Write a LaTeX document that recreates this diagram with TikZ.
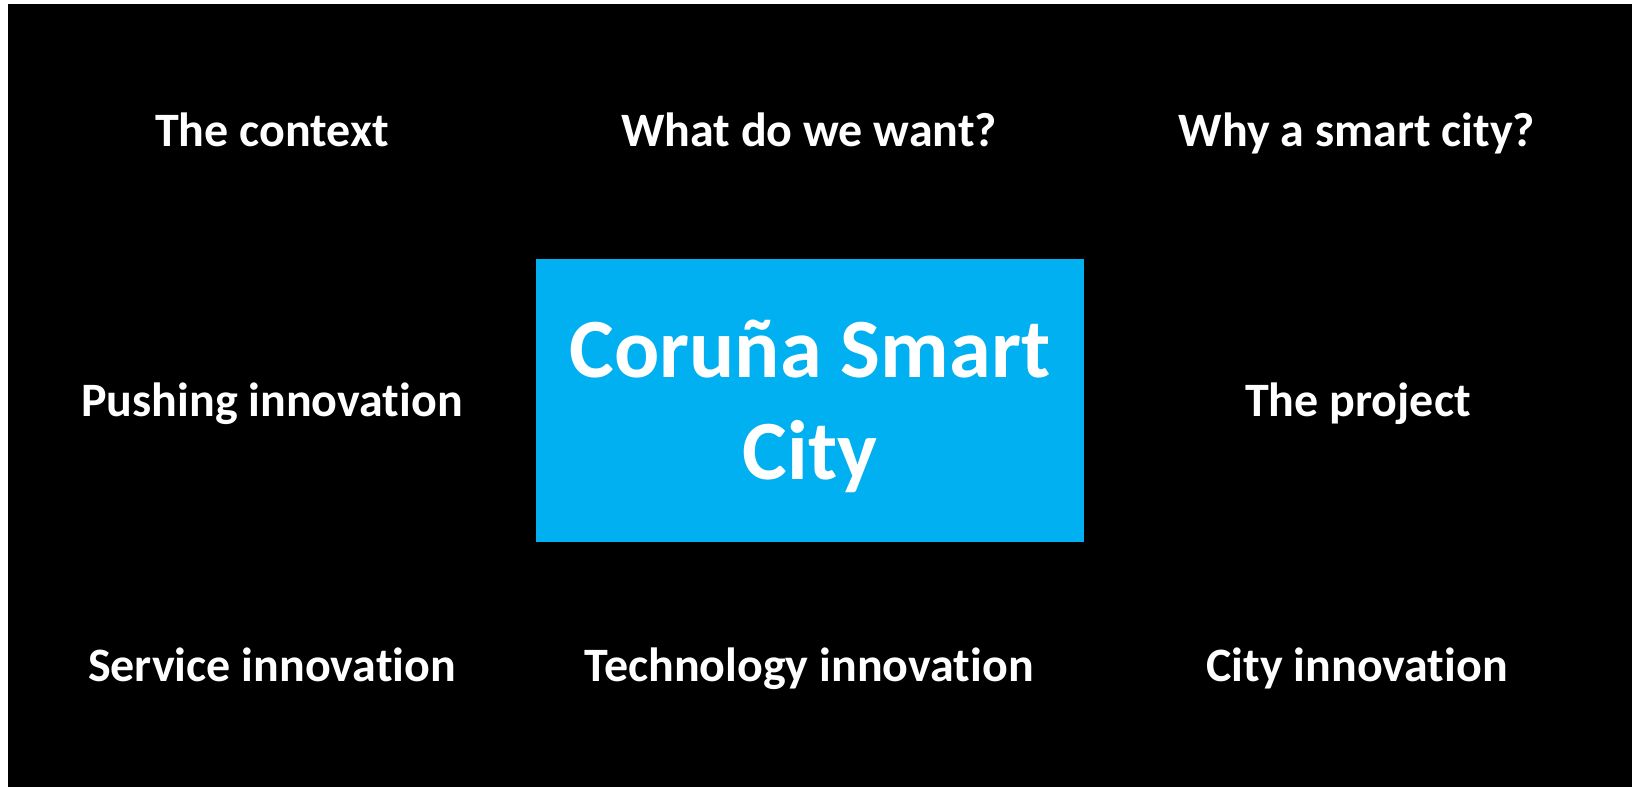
\documentclass[tikz,border=0pt]{standalone}
\usepackage{fontspec}
\setmainfont{Carlito}[Ligatures=NoCommon]
\usepackage{tikz}
\definecolor{cityblue}{HTML}{00B0F0}

\begin{document}
\begin{tikzpicture}[
    topic/.style={text=white, font=\bfseries\fontsize{27.3}{32}\selectfont, anchor=base, inner sep=0pt},
    hub/.style={fill=cityblue, minimum width=10.96cm, minimum height=5.66cm, inner sep=0pt},
    hubtext/.style={text=white, align=center, font=\bfseries\fontsize{48}{58}\selectfont, inner sep=0pt}
  ]
      \useasboundingbox (0,0) rectangle (32.68,-15.74);
      \fill[black] (0.16,-0.08) rectangle (32.64,-15.74);
      % centre box
      \node[hub] (hub) at (16.2,-8.01) {};
      \node[hubtext] (hublabel) at ([yshift=-0.12cm]hub.center) {Coruña Smart\\City};
      % top row
      \node[topic] (context) at (5.44,-2.94) {The context};
      \node[topic] (want) at (16.18,-2.94) {What do we want?};
      \node[topic] (why) at (27.14,-2.94) {Why a smart city?};
      % middle row
      \node[topic] (pushing) at (5.44,-8.32) {Pushing innovation};
      \node[topic] (project) at (27.16,-8.32) {The project};
      % bottom row
      \node[topic] (service) at (5.44,-13.62) {Service innovation};
      \node[topic] (techno) at (16.18,-13.62) {Technology innovation};
      \node[topic] (cityinno) at (27.14,-13.62) {City innovation};
    \end{tikzpicture}
\end{document}
